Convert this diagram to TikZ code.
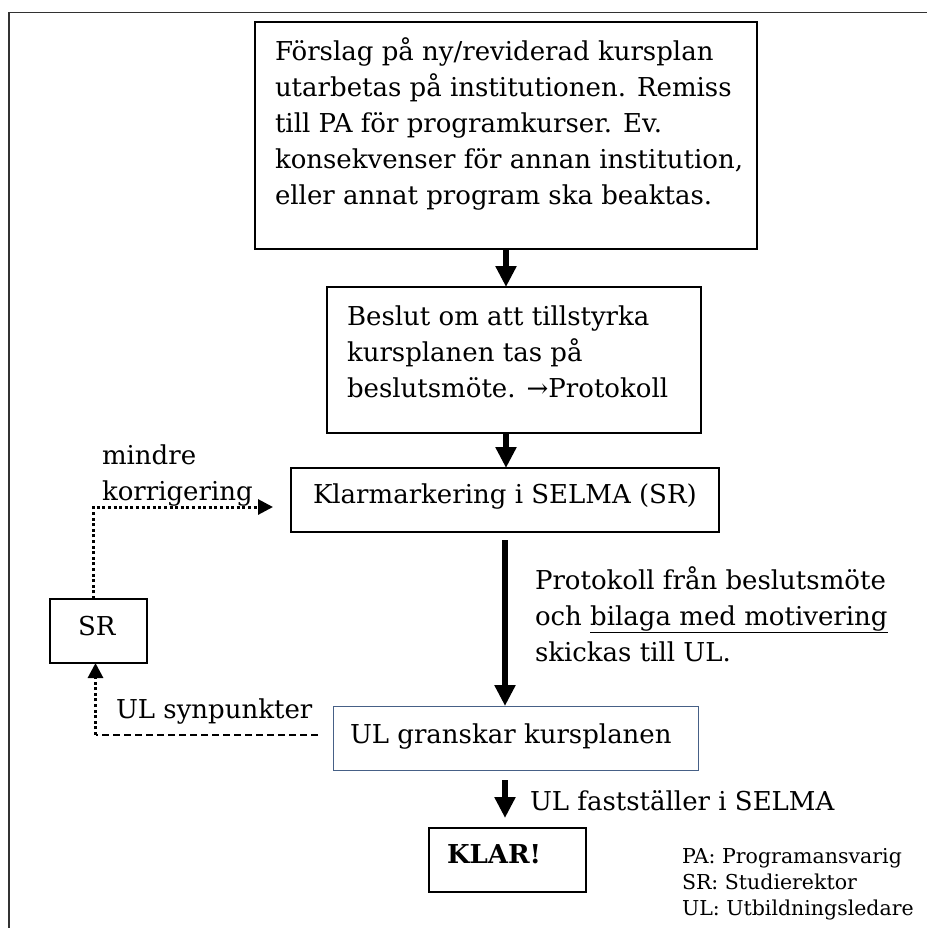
\documentclass[tikz,border=0pt]{standalone}
\usepackage{fontspec}
\setmainfont{DejaVu Serif}
\usetikzlibrary{arrows.meta,calc}
\definecolor{ulblue}{RGB}{70,96,134}
\definecolor{framegray}{RGB}{50,50,50}
\begin{document}
\begin{tikzpicture}[x=1bp,y=-1bp,
  every node/.style={inner sep=0pt,outer sep=0pt},
  bx/.style={draw=black,line width=1.3bp,anchor=north west},
  txt/.style={anchor=base west,align=left,font=\fontsize{26bp}{36bp}\selectfont},
  legendtxt/.style={anchor=base west,align=left,font=\fontsize{20.5bp}{26bp}\selectfont},
  bigarrow/.style={line width=6bp,-{Triangle[length=21bp,width=20bp]}},
  dotline/.style={line width=3bp,dash pattern=on 3bp off 2.6bp},
  dashline/.style={line width=2.2bp,dash pattern=on 7bp off 4bp},
  smalltip/.style={-{Triangle[length=15bp,width=15bp]}}
]
\useasboundingbox (0,0) rectangle (927,928);
% outer frame (top and left)
\draw[line width=1.8bp,draw=framegray] (9,930) -- (9,12.5) -- (930,12.5);

% boxes
\node[bx,line width=2bp,minimum width=502bp,minimum height=227bp] (b1) at (255,22) {};
\node[bx,minimum width=374bp,minimum height=146bp] (b2) at (327,287) {};
\node[bx,minimum width=428bp,minimum height=64bp] (b3) at (291,468) {};
\node[bx,draw=ulblue,line width=1bp,minimum width=365bp,minimum height=64bp] (ul) at (333,706) {};
\node[bx,minimum width=157bp,minimum height=64bp] (klar) at (429,828) {};
\node[bx,minimum width=97bp,minimum height=64bp] (sr) at (50,599) {};

% texts (anchor = baseline of the last line)
\node[txt] (t1) at (275,204) {Förslag på ny/reviderad kursplan\\utarbetas på institutionen. Remiss\\till PA för programkurser. Ev.\\konsekvenser för annan institution,\\eller annat program ska beaktas.};
\node[txt] (t2) at (347,397) {Beslut om att tillstyrka\\kursplanen tas på\\beslutsmöte. →Protokoll};
\node[txt] (t3) at (313,503) {Klarmarkering i SELMA (SR)};
\node[txt] (t4) at (350,743) {UL granskar kursplanen};
\node[txt,font=\fontsize{26bp}{36bp}\selectfont\bfseries] (t5) at (447,863) {KLAR!};
\node[txt] (t6) at (78,635) {SR};
\node[txt] (lp) at (535,661) {Protokoll från beslutsmöte\\och \underline{bilaga med motivering}\\skickas till UL.};
\node[txt] (lf) at (530,810) {UL fastställer i SELMA};
\node[txt] (lm) at (102,500) {mindre\\korrigering};
\node[txt] (ls) at (116,718) {UL synpunkter};
\node[legendtxt] (leg) at (682,915) {PA: Programansvarig\\SR: Studierektor\\UL: Utbildningsledare};

% main arrows
\draw[bigarrow] (b1.south) -- (b1.south |- b2.north);
\draw[bigarrow] (b1.south |- b2.south) -- (b1.south |- b3.north);
\coordinate (a3s) at ($(b3.south)+(0,8)$);
\draw[bigarrow] (a3s) -- (a3s |- ul.north);
\coordinate (a4s) at ($(b3.south |- ul.south)+(0,10)$);
\coordinate (a4e) at ($(b3.south |- klar.north)+(0,-10)$);
\draw[bigarrow] (a4s) -- (a4e);

% feedback loop
\coordinate (kc) at (273,507);
\draw[dotline,smalltip] ([xshift=-5bp]sr.north) |- (kc);
\coordinate (uc) at ($(ul.west)+(-15,-3)$);
\coordinate (dc) at ([xshift=-3bp]sr.south |- uc);
\draw[dashline] (uc) -- (dc);
\draw[dotline,smalltip] (dc) -- ([xshift=-3bp]sr.south);
\end{tikzpicture}
\end{document}
